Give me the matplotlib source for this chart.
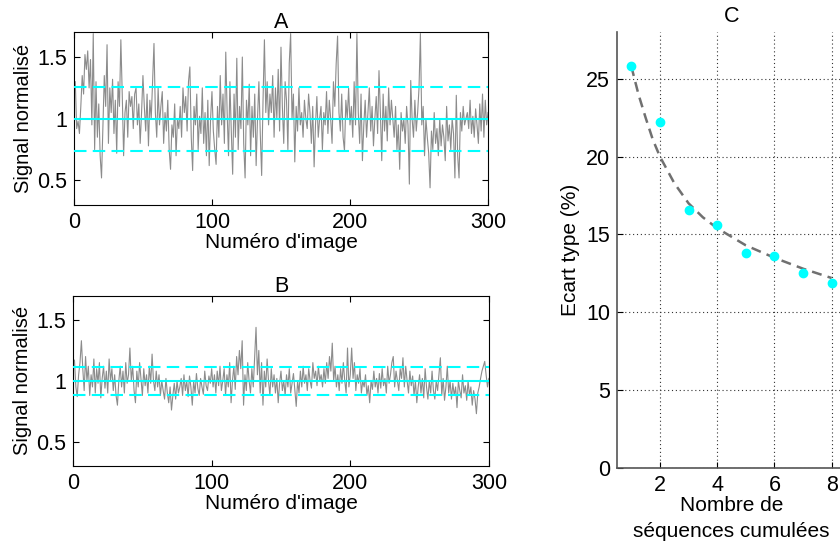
import numpy as np
import matplotlib
matplotlib.use("Agg")
import matplotlib.pyplot as plt

plt.rcParams['font.family'] = ['Liberation Sans', 'DejaVu Sans']

# signal A : une sequence (ecart type 25.8 %)
signal_a = [
    1.30, 0.92, 0.98, 0.88, 1.10, 1.35, 1.20, 1.52, 1.40, 1.55, 1.25, 1.48, 0.95, 1.69, 0.75, 1.30, 0.85, 1.12, 0.70, 0.52,
    0.95, 1.35, 1.10, 1.60, 0.80, 1.25, 1.05, 1.32, 0.88, 1.15, 0.72, 1.30, 1.10, 1.64, 1.20, 0.70, 1.05, 1.15, 0.85, 1.22,
    1.10, 1.18, 0.92, 1.20, 1.25, 0.95, 1.12, 0.80, 1.05, 1.35, 1.10, 0.90, 1.20, 0.78, 1.15, 1.00, 1.30, 1.61, 1.05, 0.85,
    1.25, 0.95, 1.10, 1.22, 0.80, 1.05, 0.90, 1.15, 0.75, 0.59, 0.95, 0.85, 1.12, 0.70, 1.00, 0.92, 1.10, 0.85, 1.25, 1.05,
    1.18, 0.90, 1.30, 1.42, 0.85, 0.58, 1.10, 0.95, 1.20, 0.75, 1.02, 0.88, 1.25, 0.80, 1.05, 0.70, 1.15, 0.62, 1.00, 1.22,
    0.90, 0.75, 0.63, 1.10, 0.85, 1.35, 0.95, 1.20, 0.80, 1.54, 1.05, 0.70, 1.30, 0.90, 0.55, 1.20, 0.85, 1.49, 0.75, 1.10,
    0.92, 1.50, 0.80, 0.52, 1.15, 0.95, 1.28, 0.70, 1.10, 0.85, 1.20, 0.62, 1.00, 1.30, 0.88, 0.54, 1.15, 1.64, 1.05, 1.30,
    0.95, 1.20, 1.05, 1.35, 0.85, 1.25, 1.00, 1.40, 0.90, 1.58, 1.10, 0.80, 1.30, 1.15, 0.75, 1.45, 1.69, 1.00, 1.20, 0.65,
    1.10, 0.90, 1.25, 0.95, 1.05, 0.85, 1.15, 1.00, 0.92, 1.20, 1.05, 0.80, 1.10, 0.61, 0.95, 1.18, 0.85, 1.00, 1.10, 0.75,
    1.05, 0.95, 1.22, 0.88, 1.15, 1.00, 0.80, 1.30, 1.10, 1.45, 1.67, 1.05, 0.90, 1.20, 0.85, 0.74, 1.15, 1.00, 1.25, 0.95,
    1.10, 0.85, 1.30, 0.95, 1.69, 1.05, 0.80, 1.20, 0.66, 0.95, 1.15, 0.85, 1.05, 1.25, 0.90, 1.10, 0.78, 1.00, 1.18, 0.88,
    1.39, 1.05, 0.66, 1.20, 0.90, 1.10, 0.82, 1.25, 0.95, 1.15, 1.00, 0.85, 1.10, 0.75, 0.95, 0.59, 1.05, 0.90, 1.00, 0.80,
    1.10, 0.95, 0.47, 1.31, 1.00, 0.85, 1.15, 0.90, 1.05, 1.25, 1.69, 0.95, 1.10, 0.70, 1.00, 0.85, 0.72, 0.44, 0.90, 0.75,
    1.05, 0.80, 0.92, 0.70, 1.00, 0.78, 0.95, 0.85, 0.66, 1.10, 0.82, 0.95, 0.75, 1.00, 0.88, 0.52, 1.19, 0.70, 0.52, 1.05,
    0.90, 1.10, 0.95, 1.00, 1.05, 0.92, 1.15, 0.88, 1.02, 0.85, 1.08, 0.95, 0.80, 1.12, 0.90, 1.20, 0.85, 1.15, 0.95, 1.05,
]

# signal B : 8 sequences cumulees (ecart type 11.9 %)
signal_b = [
    1.17, 0.95, 0.87, 1.05, 1.15, 1.33, 1.10, 0.92, 1.20, 1.00, 1.12, 0.88, 1.05, 0.95, 1.18, 0.90, 1.10, 0.98, 1.15, 0.86,
    1.02, 1.12, 0.94, 1.08, 0.90, 1.18, 1.00, 1.10, 0.92, 1.05, 0.88, 0.80, 1.00, 1.12, 0.95, 1.08, 0.90, 1.15, 0.98, 1.05,
    1.27, 1.00, 1.12, 0.92, 0.82, 1.08, 0.95, 1.15, 1.02, 0.88, 1.10, 0.96, 1.05, 0.90, 1.12, 0.98, 1.22, 1.00, 0.92, 1.08,
    0.95, 1.05, 0.88, 1.00, 0.92, 0.85, 1.02, 0.90, 0.82, 0.95, 0.76, 0.88, 0.98, 0.85, 1.00, 0.90, 0.95, 1.02, 0.88, 1.05,
    0.92, 1.00, 0.87, 1.04, 0.95, 0.80, 1.00, 0.90, 1.06, 0.94, 0.88, 1.02, 0.95, 0.89, 1.08, 0.96, 0.92, 1.04, 0.98, 1.10,
    0.95, 1.05, 0.90, 1.08, 0.96, 1.12, 0.92, 1.00, 1.10, 0.88, 1.05, 0.95, 1.15, 0.82, 1.00, 1.12, 0.93, 1.20, 1.05, 1.25,
    1.10, 1.33, 0.80, 1.05, 0.92, 1.15, 1.00, 0.90, 1.10, 0.95, 1.20, 1.44, 1.05, 1.25, 0.90, 1.15, 0.80, 1.08, 0.95, 1.18,
    1.00, 0.88, 1.10, 0.95, 1.05, 0.90, 1.02, 0.82, 0.98, 1.08, 0.92, 1.00, 0.88, 1.05, 0.95, 1.10, 0.90, 0.98, 1.06, 0.92,
    0.79, 1.00, 0.90, 1.08, 0.95, 1.12, 0.98, 1.05, 0.92, 1.10, 1.00, 0.94, 1.15, 1.02, 1.08, 0.96, 1.12, 1.00, 1.05, 0.95,
    1.10, 0.98, 1.15, 1.02, 1.20, 1.08, 1.31, 1.00, 1.12, 0.95, 1.05, 0.92, 1.10, 0.98, 1.15, 1.00, 0.90, 1.27, 0.95, 1.05,
    1.27, 1.02, 1.15, 0.92, 1.05, 0.98, 1.10, 0.90, 1.00, 0.95, 1.05, 0.88, 0.96, 0.82, 1.00, 0.93, 1.08, 0.95, 1.02, 0.90,
    1.06, 0.94, 1.10, 0.96, 1.02, 0.90, 1.12, 0.98, 1.05, 1.15, 1.20, 0.95, 1.08, 1.00, 0.92, 1.10, 1.02, 1.19, 0.95, 1.12,
    1.00, 0.90, 1.08, 0.96, 1.04, 0.88, 1.00, 0.82, 0.95, 1.05, 0.90, 1.02, 0.86, 1.10, 0.95, 0.85, 1.00, 0.90, 1.08, 0.92,
    0.85, 1.00, 0.92, 1.05, 1.19, 0.88, 1.02, 0.84, 0.95, 1.12, 0.90, 1.00, 0.85, 0.98, 0.88, 0.95, 0.78, 1.00, 0.92, 0.86,
    1.05, 0.90, 0.96, 0.84, 1.00, 0.88, 0.95, 0.80, 0.92, 0.85, 0.73, 0.90, 0.95, 1.02, 1.08, 1.12, 1.16, 1.05, 0.95, 1.02,
]

ecart_a = 0.258
ecart_b = 0.117

# C : ecart type vs nombre de sequences
n_seq = [1, 2, 3, 4, 5, 6, 7, 8]
ecart_type = [25.8, 22.2, 16.6, 15.6, 13.8, 13.6, 12.5, 11.9]
fit_x = [1, 1.25, 1.5, 1.75, 2, 2.5, 3, 3.5, 4, 5, 6, 7, 8]
fit_y = [25.8, 24.0, 22.5, 21.1, 20.0, 18.3, 17.0, 16.1, 15.4, 14.3, 13.5, 12.8, 12.2]

fs = 15.5
cyan = '#00ffff'

fig = plt.figure(figsize=(8.4, 5.44), dpi=100)


def panneau(pos, sig, ec, titre):
    ax = fig.add_axes(pos)
    x = np.arange(1, len(sig) + 1)
    ax.plot(x, sig, color='#8c8c8c', lw=0.8, zorder=2)
    ax.axhline(1, color=cyan, lw=1.5, zorder=3)
    for v in (1 + ec, 1 - ec):
        ax.axhline(v, color=cyan, lw=1.5, dashes=(6, 3), zorder=3)
    ax.set_xlim(0, 300)
    ax.set_ylim(0.3, 1.7)
    ax.set_xticks([0, 100, 200, 300])
    ax.set_yticks([0.5, 1, 1.5])
    ax.set_yticklabels(['0.5', '1', '1.5'])
    ax.tick_params(direction='in', top=True, right=True, length=4, labelsize=fs, pad=5)
    ax.set_title(titre, fontsize=fs, pad=3)
    ax.set_xlabel("Numéro d'image", fontsize=15, labelpad=0)
    ax.set_ylabel('Signal normalisé', fontsize=14.5, labelpad=3)
    for s in ax.spines.values():
        s.set_linewidth(0.8)
    return ax


panneau([0.088, 0.623, 0.493, 0.3175], signal_a, ecart_a, 'A')
panneau([0.087, 0.1434, 0.495, 0.313], signal_b, ecart_b, 'B')

axc = fig.add_axes([0.7345, 0.1397, 0.2726, 0.8015])
axc.plot(fit_x, fit_y, color='#707070', lw=1.8, dashes=(4, 2.5), zorder=3)
axc.plot(n_seq, ecart_type, 'o', color=cyan, ms=6, zorder=4)
axc.set_xlim(0.5, 8.5)
axc.set_ylim(0, 28)
axc.set_xticks([2, 4, 6, 8])
axc.set_yticks([0, 5, 10, 15, 20, 25])
axc.grid(True, color='#333333', linestyle=(0, (1, 2.5)), lw=0.8)
axc.tick_params(direction='in', length=4, labelsize=fs, pad=5)
for s in ['top', 'right']:
    axc.spines[s].set_visible(False)
for s in ['left', 'bottom']:
    axc.spines[s].set_color('#555555')
    axc.spines[s].set_linewidth(1.2)
axc.set_title('C', fontsize=fs, pad=7)
axc.set_xlabel('Nombre de\nséquences cumulées', fontsize=15, labelpad=0, linespacing=1.45)
axc.set_ylabel('Ecart type (%)', fontsize=15, labelpad=4)

fig.savefig('out.png', dpi=100)
